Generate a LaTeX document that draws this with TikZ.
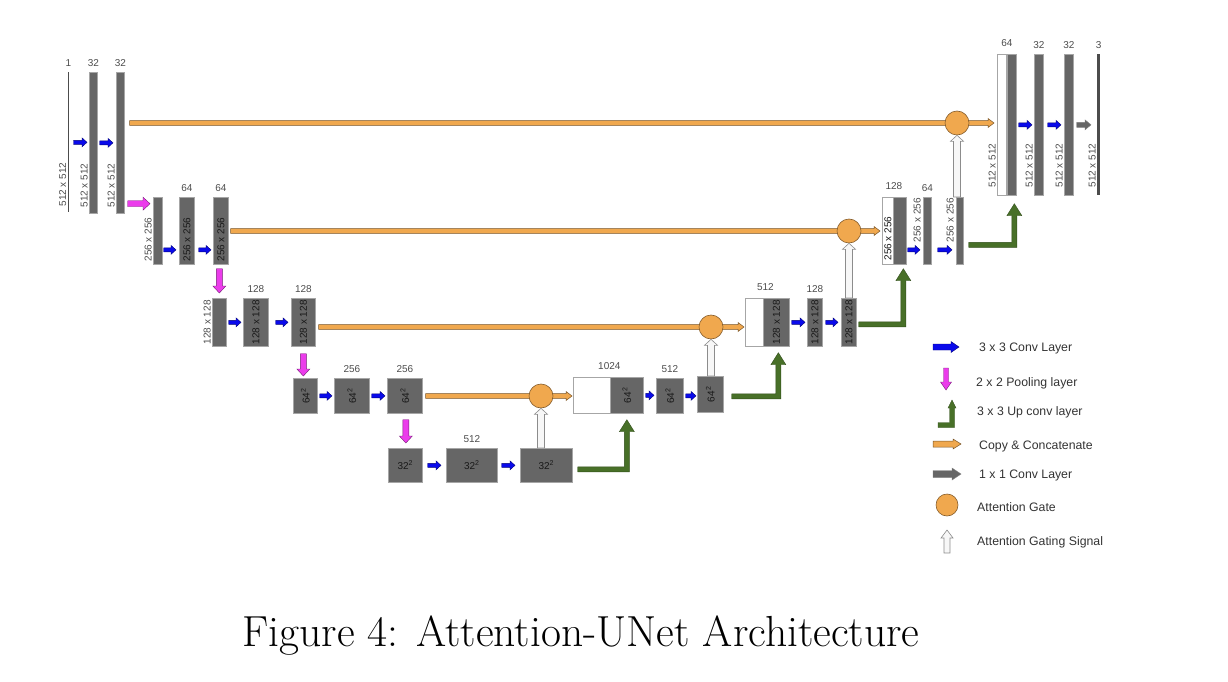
\documentclass[tikz,border=0pt]{standalone}
\usepackage{fontspec}
\setsansfont{Liberation Sans}
\usetikzlibrary{calc}

\definecolor{convblue}{RGB}{10,10,235}
\definecolor{poolpink}{RGB}{235,60,235}
\definecolor{upgreen}{RGB}{72,112,40}
\definecolor{copyorange}{RGB}{240,168,78}
\definecolor{layergray}{RGB}{102,102,102}

\tikzset{
  ashaft/.store in=\arrS, ahead/.store in=\arrH, alen/.store in=\arrL,
  ashaft=2pt, ahead=4pt, alen=5pt,
  dim/.style={font=\sffamily\fontsize{10}{12}\selectfont, text=black!70, inner sep=1pt},
  chan/.style={dim, yshift=4pt},
  vdim/.style={dim, rotate=90},
  boxtext/.style={vdim, text=black!90},
  fmap/.style={draw=black!35, fill=layergray, line width=0.7pt, inner sep=0pt, anchor=north west},
  legend/.style={font=\sffamily\fontsize{12.3}{14}\selectfont, text=black!80, anchor=west, inner sep=0pt},
  conv/.style={fill=convblue, draw=convblue!50!black, line width=0.4pt, ashaft=2pt, ahead=4.5pt, alen=5pt},
  pool/.style={fill=poolpink, draw=poolpink!50!black, line width=0.4pt, ashaft=3pt, ahead=6.5pt, alen=7pt},
  copyarrow/.style={fill=copyorange, draw=copyorange!50!black, line width=0.5pt, ashaft=2.3pt, ahead=4.5pt, alen=6pt},
  upconv/.style={fill=upgreen, draw=upgreen!70!black, line width=0.4pt, ashaft=2.5pt, ahead=7.5pt, alen=12pt},
  gating/.style={fill=black!3, draw=black!45, line width=0.6pt, ashaft=3.5pt, ahead=6.5pt, alen=6pt},
  outconv/.style={fill=layergray, draw=black!50, line width=0.4pt, ashaft=2.5pt, ahead=5pt, alen=6pt},
  gate/.style={circle, fill=copyorange, draw=copyorange!55!black, line width=0.6pt, minimum size=24pt, inner sep=0pt},
}

\newcommand\arrowR[3][]{\filldraw[#1] let \p1=(#2), \p2=(#3) in
  (\x1,{\y1+\arrS}) -- ({\x2-\arrL},{\y1+\arrS}) -- ({\x2-\arrL},{\y1+\arrH}) -- (\x2,\y1)
  -- ({\x2-\arrL},{\y1-\arrH}) -- ({\x2-\arrL},{\y1-\arrS}) -- (\x1,{\y1-\arrS}) -- cycle;}
\newcommand\arrowU[3][]{\filldraw[#1] let \p1=(#2), \p2=(#3) in
  ({\x1-\arrS},\y1) -- ({\x1-\arrS},{\y2-\arrL}) -- ({\x1-\arrH},{\y2-\arrL}) -- (\x1,\y2)
  -- ({\x1+\arrH},{\y2-\arrL}) -- ({\x1+\arrS},{\y2-\arrL}) -- ({\x1+\arrS},\y1) -- cycle;}
\newcommand\arrowD[3][]{\filldraw[#1] let \p1=(#2), \p2=(#3) in
  ({\x1-\arrS},\y1) -- ({\x1-\arrS},{\y2+\arrL}) -- ({\x1-\arrH},{\y2+\arrL}) -- (\x1,\y2)
  -- ({\x1+\arrH},{\y2+\arrL}) -- ({\x1+\arrS},{\y2+\arrL}) -- ({\x1+\arrS},\y1) -- cycle;}
\newcommand\arrowL[3][]{\filldraw[#1] let \p1=(#2), \p2=(#3) in
  (\x1,{\y1+\arrS}) -- ({\x2-\arrS},{\y1+\arrS}) -- ({\x2-\arrS},{\y2-\arrL}) -- ({\x2-\arrH},{\y2-\arrL})
  -- (\x2,\y2) -- ({\x2+\arrH},{\y2-\arrL}) -- ({\x2+\arrS},{\y2-\arrL}) -- ({\x2+\arrS},{\y1-\arrS})
  -- (\x1,{\y1-\arrS}) -- cycle;}

\begin{document}
\begin{tikzpicture}[x=1pt, y=-1pt]
  \useasboundingbox (0,0) rectangle (1228,682);

  % encoder
  \node[fmap, draw=none, fill=black!70, minimum width=1.5, minimum height=140, label={[chan]above:1}] (inp) at (67.3,72) {};
  \node[fmap, minimum width=8, minimum height=141, label={[chan]above:32}] (e1a) at (89,72) {};
  \node[fmap, minimum width=8, minimum height=141, label={[chan]above:32}] (e1b) at (116,72) {};
  \foreach \n in {inp,e1a,e1b}
    \node[vdim, anchor=south west] (\n-dim) at ($(\n.south west)+(0,-5)$) {512 x 512};
  \arrowR[conv]{$(inp.east)+(4,0)$}{$(e1a.west)+(-2,0)$}
  \arrowR[conv]{$(e1a.east)+(2,0)$}{$(e1b.west)+(-3,0)$}

  \node[fmap, minimum width=9, minimum height=67] (e2a) at (153,197) {};
  \node[fmap, minimum width=15, minimum height=67, label={[chan]above:64}] (e2b) at (179,197) {};
  \node[fmap, minimum width=15, minimum height=67, label={[chan]above:64}] (e2c) at (213,197) {};
  \node[vdim, anchor=south west] (e2a-dim) at ($(e2a.south west)+(0,-2)$) {256 x 256};
  \foreach \n in {e2b,e2c}
    \node[boxtext, anchor=west] (\n-dim) at ($(\n.south)+(0,-2)$) {256 x 256};
  \arrowR[pool]{$(e1b.south east)+(3,-10)$}{$(e2a.west)+(-3,0)$}
  \arrowR[conv]{$(e2a.east)+(1,19)$}{$(e2b.west)+(-3,0)$}
  \arrowR[conv]{$(e2b.east)+(4,19)$}{$(e2c.west)+(-2,0)$}

  \node[fmap, minimum width=14, minimum height=48] (e3a) at (212,298) {};
  \node[fmap, minimum width=25, minimum height=48, label={[chan]above:128}] (e3b) at (243,298) {};
  \node[fmap, minimum width=24, minimum height=48, label={[chan]above:128}] (e3c) at (291,298) {};
  \node[vdim, anchor=south] (e3a-dim) at (e3a.west) {128 x 128};
  \foreach \n in {e3b,e3c}
    \node[boxtext] (\n-dim) at (\n.center) {128 x 128};
  \arrowD[pool]{$(e2c.south)+(-1.5,4)$}{$(e3a.north)+(0,-5)$}
  \arrowR[conv]{$(e3a.east)+(2,0)$}{$(e3b.west)+(-2,0)$}
  \arrowR[conv]{$(e3b.east)+(7,0)$}{$(e3c.west)+(-3,0)$}

  \node[fmap, minimum width=24, minimum height=35] (e4a) at (293,378) {};
  \node[fmap, minimum width=35, minimum height=35, label={[chan]above:256}] (e4b) at (334,378) {};
  \node[fmap, minimum width=35, minimum height=35, label={[chan]above:256}] (e4c) at (387,378) {};
  \foreach \n in {e4a,e4b,e4c}
    \node[boxtext] (\n-dim) at (\n.center) {64\textsuperscript{2}};
  \arrowD[pool]{$(e3c.south)+(0,7)$}{$(e4a.north)+(0,-2)$}
  \arrowR[conv]{$(e4a.east)+(2,0)$}{$(e4b.west)+(-2,0)$}
  \arrowR[conv]{$(e4b.east)+(2,0)$}{$(e4c.west)+(-2,0)$}

  % bottom
  \node[fmap, minimum width=34, minimum height=34] (b5a) at (388,448) {};
  \node[fmap, minimum width=51, minimum height=34, label={[chan]above:512}] (b5b) at (446,448) {};
  \node[fmap, minimum width=52, minimum height=34] (b5c) at (520,448) {};
  \foreach \n in {b5a,b5b,b5c}
    \node[dim, text=black!90] (\n-dim) at (\n.center) {32\textsuperscript{2}};
  \arrowD[pool]{$(e4c.south)+(1,6)$}{$(b5a.north)+(0,-5)$}
  \arrowR[conv]{$(b5a.east)+(5,0)$}{$(b5b.west)+(-5,0)$}
  \arrowR[conv]{$(b5b.east)+(4,0)$}{$(b5c.west)+(-5,0)$}

  % decoder
  \node[fmap, fill=white, minimum width=37, minimum height=36] (d4w) at (573,377) {};
  \node[fmap, minimum width=33, minimum height=36] (d4) at (610,377) {};
  \node[dim, anchor=south] (d4-ch) at ($(d4w.north)!.5!(d4.north)+(0,-6)$) {1024};
  \node[fmap, minimum width=27, minimum height=35, label={[chan]above:512}] (d4b) at (656,378) {};
  \node[fmap, minimum width=26, minimum height=36] (d4c) at (697,376) {};
  \foreach \n in {d4,d4b,d4c}
    \node[boxtext] (\n-dim) at (\n.center) {64\textsuperscript{2}};
  \arrowR[conv]{$(d4.east)+(2,0)$}{$(d4b.west)+(-2,0)$}
  \arrowR[conv]{$(d4b.east)+(2,0)$}{$(d4c.west)+(-1,0)$}

  \node[fmap, fill=white, minimum width=18, minimum height=48] (d3w) at (745,298) {};
  \node[fmap, minimum width=26, minimum height=48] (d3) at (763,298) {};
  \node[dim, anchor=south] (d3-ch) at ($(d3w.north)!.5!(d3.north)+(0,-6)$) {512};
  \node[fmap, minimum width=15, minimum height=48, label={[chan]above:128}] (d3b) at (807,298) {};
  \node[fmap, minimum width=15, minimum height=48] (d3c) at (841,298) {};
  \foreach \n in {d3,d3b,d3c}
    \node[boxtext] (\n-dim) at (\n.center) {128 x 128};
  \arrowR[conv]{$(d3.east)+(2,0)$}{$(d3b.west)+(-2,0)$}
  \arrowR[conv]{$(d3b.east)+(3,0)$}{$(d3c.west)+(-3,0)$}

  \node[fmap, fill=white, minimum width=11, minimum height=67] (d2w) at (882,197) {};
  \node[fmap, minimum width=13, minimum height=67] (d2) at (893,197) {};
  \node[dim, anchor=south] (d2-ch) at ($(d2w.north)!.5!(d2.north)+(0,-6)$) {128};
  \node[fmap, minimum width=8, minimum height=67, label={[chan]above:64}] (d2b) at (923,197) {};
  \node[fmap, minimum width=7, minimum height=67] (d2c) at (956,197) {};
  \node[boxtext, anchor=west] (d2w-dim) at ($(d2w.south)+(0,-3)$) {256 x 256};
  \foreach \n in {d2b,d2c}
    \node[vdim, anchor=south east] (\n-dim) at ($(\n.north west)+(-1,0)$) {256 x 256};
  \arrowR[conv]{$(d2.east)+(1,19)$}{$(d2b.west)+(-3,0)$}
  \arrowR[conv]{$(d2b.east)+(6,19)$}{$(d2c.west)+(-4,0)$}

  \node[fmap, fill=white, minimum width=9, minimum height=141] (d1w) at (997,54) {};
  \node[fmap, minimum width=9, minimum height=141] (d1) at (1007,54) {};
  \node[dim, anchor=south] (d1-ch) at ($(d1w.north)!.5!(d1.north)+(0,-6)$) {64};
  \node[fmap, minimum width=9, minimum height=141, label={[chan]above:32}] (d1b) at (1034,54) {};
  \node[fmap, minimum width=9, minimum height=141, label={[chan]above:32}] (d1c) at (1064,54) {};
  \node[fmap, draw=none, fill=black!70, minimum width=2.5, minimum height=141, label={[chan]above:3}] (outp) at (1097,54) {};
  \foreach \n in {d1w,d1b,d1c,outp}
    \node[vdim, anchor=south west] (\n-dim) at ($(\n.south west)+(0,-7)$) {512 x 512};
  \arrowR[conv]{$(d1.east)+(2,0)$}{$(d1b.west)+(-2,0)$}
  \arrowR[conv]{$(d1b.east)+(4,0)$}{$(d1c.west)+(-3,0)$}
  \arrowR[outconv]{$(d1c.east)+(3,0)$}{$(outp.west)+(-6,0)$}

  % skip connections and gates
  \coordinate (g1) at (957,123);
  \coordinate (g2) at (849,231);
  \coordinate (g3) at (711,327);
  \coordinate (g4) at (541,396);
  \arrowR[copyarrow]{$(e1b.east |- g1)+(5,0)$}{$(d1w.west)+(-3,0)$}
  \arrowR[copyarrow]{$(e2c.east |- g2)+(2,0)$}{$(d2w.west)+(-2,0)$}
  \arrowR[copyarrow]{$(e3c.east |- g3)+(3,0)$}{$(d3w.west)+(-1,0)$}
  \arrowR[copyarrow]{$(e4c.east |- g4)+(3,0)$}{$(d4w.west)+(-1,0)$}
  \foreach \i in {1,...,4}
    \node[gate] (ag\i) at (g\i) {};
  \arrowU[gating]{ag1 |- d2c.north}{ag1.south}
  \arrowU[gating]{ag2 |- d3c.north}{ag2.south}
  \arrowU[gating]{ag3 |- d4c.north}{ag3.south}
  \arrowU[gating]{ag4 |- b5c.north}{ag4.south}

  \arrowL[upconv]{$(b5c.east)+(5,4)$}{$(d4.south)+(0,6)$}
  \arrowL[upconv]{$(d4c.east)+(8,2)$}{$(d3.south)+(2,6)$}
  \arrowL[upconv]{$(d3c.east)+(2,2)$}{$(d2.south)+(3.5,4)$}
  \arrowL[upconv]{$(d2c.east)+(5,14)$}{$(d1.south)+(2.5,8)$}

  % legend
  \coordinate (k1) at (933,347);   \coordinate (k1e) at (959,347);
  \coordinate (k2) at (946,368);   \coordinate (k2e) at (946,390);
  \coordinate (k3) at (938,425);   \coordinate (k3e) at (952,400);
  \coordinate (k4) at (933,444);   \coordinate (k4e) at (961,444);
  \coordinate (k5) at (933,474);   \coordinate (k5e) at (961,474);
  \coordinate (k7) at (947,553);   \coordinate (k7e) at (947,530);
  \arrowR[conv, ashaft=3pt, ahead=5.5pt, alen=8pt]{k1}{k1e}
  \arrowD[pool, ashaft=2.5pt, ahead=5.5pt, alen=8pt]{k2}{k2e}
  \arrowL[upconv, ashaft=2.5pt, ahead=4pt, alen=8pt]{k3}{k3e}
  \arrowR[copyarrow, ashaft=3pt, ahead=5pt, alen=8pt]{k4}{k4e}
  \arrowR[outconv, ashaft=3.5pt, ahead=6pt, alen=9pt]{k5}{k5e}
  \node[gate, minimum size=22pt] (k6) at (947,505) {};
  \arrowU[gating, ashaft=3pt, ahead=6pt, alen=8pt]{k7}{k7e}
  \node[legend] (t1) at (979,348) {3 x 3 Conv Layer};
  \node[legend] (t2) at (976,383) {2 x 2 Pooling layer};
  \node[legend] (t3) at (977,412) {3 x 3 Up conv layer};
  \node[legend] (t4) at (979,446) {Copy \& Concatenate};
  \node[legend] (t5) at (979,475) {1 x 1 Conv Layer};
  \node[legend] (t6) at (977,507) {Attention Gate};
  \node[legend] (t7) at (977,542) {Attention Gating Signal};

  \node[font=\fontsize{43.5}{52}\selectfont, anchor=base, inner sep=0pt] (cap) at (581,646) {Figure 4: Attention-UNet Architecture};
\end{tikzpicture}
\end{document}
